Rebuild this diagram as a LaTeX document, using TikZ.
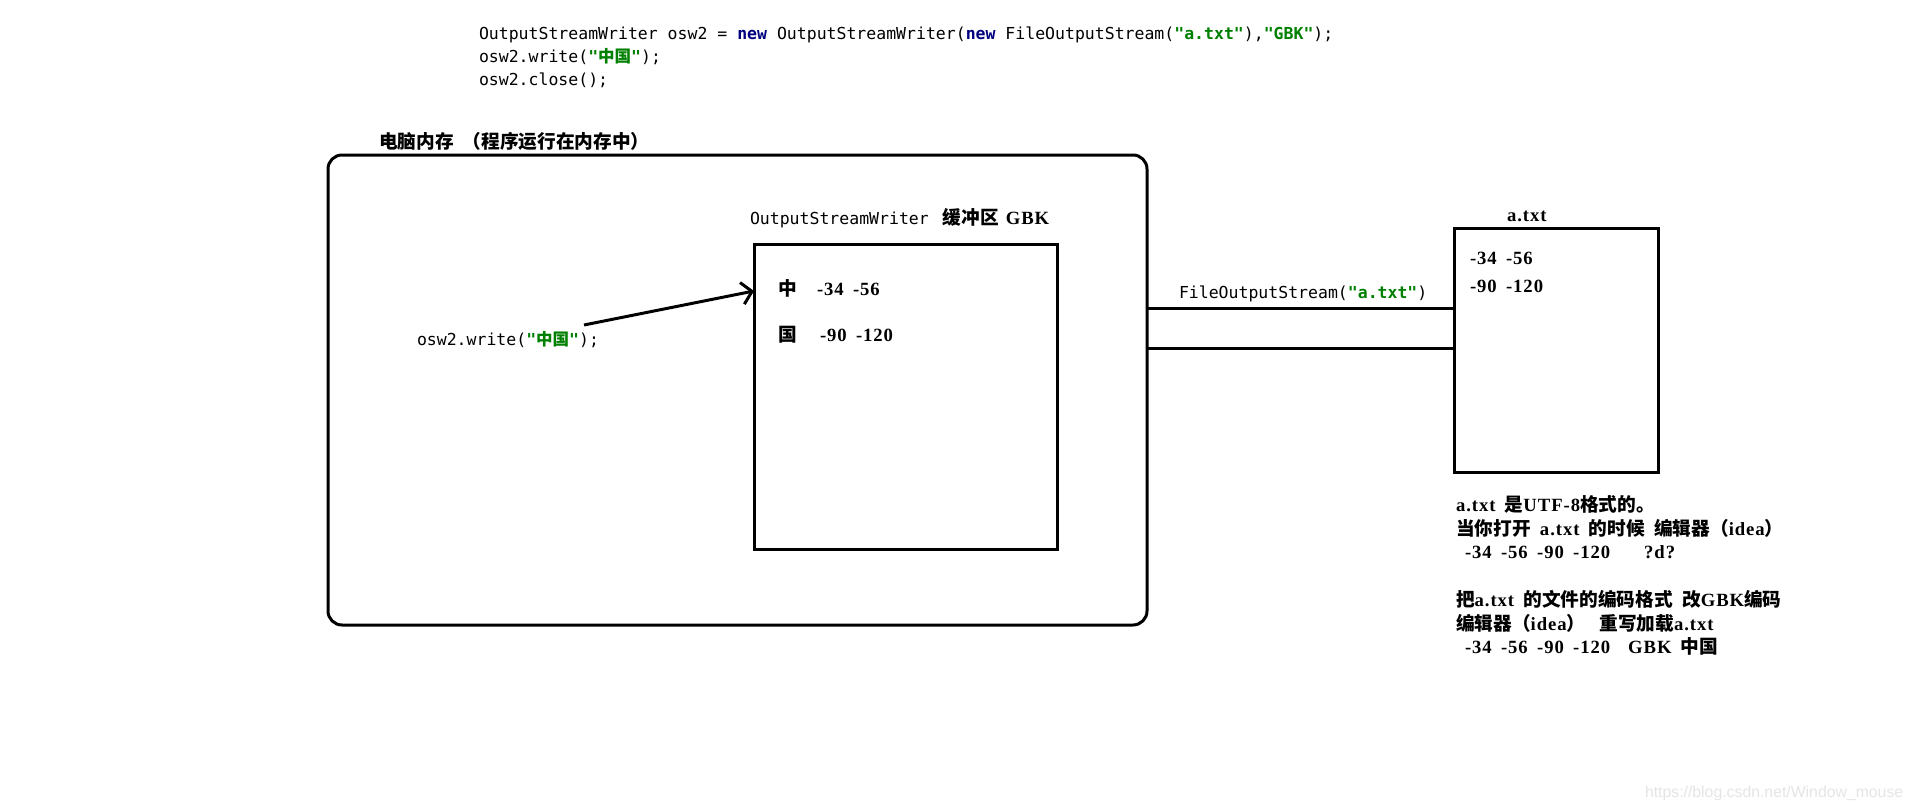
\documentclass[tikz,border=0pt]{standalone}
\usepackage{fontspec}
\setmainfont{Liberation Serif}[LetterSpace=5]
\newfontfamily\cjk{Noto Sans CJK SC}
\newfontfamily\codefont{DejaVu Sans Mono}
\newfontfamily\wmfont{Liberation Sans}
\usetikzlibrary{arrows.meta}
\definecolor{kwblue}{HTML}{000080}
\definecolor{strgreen}{HTML}{008000}
\newcommand{\zh}[1]{{\cjk #1}}
\newcommand{\kw}[1]{{\color{kwblue}\bfseries #1}}
\newcommand{\jstr}[1]{{\color{strgreen}\bfseries #1}}
\newcommand{\sizeA}{\fontsize{18.67}{22}\selectfont\spaceskip=9.3pt\relax}
\newcommand{\sizeMid}{\fontsize{16.5}{19}\selectfont}
\begin{document}
\begin{tikzpicture}[x=1pt,y=-1pt,
  every node/.style={inner sep=0pt, outer sep=0pt},
  txt/.style={anchor=base west, inner sep=0pt, font=\bfseries\sizeA},
  code/.style={anchor=base west, inner sep=0pt, font=\codefont\sizeMid},
  box/.style={draw, line width=3pt, inner sep=0pt},
  conn/.style={line width=3pt}]
\fill[white] (0,0) rectangle (1914,811);
\path[use as bounding box] (0,0) rectangle (1914,811);

% code at top
\node[code] (code1) at (479,39) {OutputStreamWriter osw2 = \kw{new} OutputStreamWriter(\kw{new} FileOutputStream(\jstr{"a.txt"}),\jstr{"GBK"});};
\node[code] (code2) at (479,62) {osw2.write(\jstr{"\zh{中国}"});};
\node[code] (code3) at (479,85) {osw2.close();};

% memory box
\node[txt] (memlbl) at (379,148) {\zh{电脑内存}\hspace{9pt}\zh{（程序运行在内存中）}};
\node[box, rounded corners=14pt, minimum width=819pt, minimum height=470pt] (mem) at (737.5,390) {};

% OutputStreamWriter buffer
\node[txt] (oswlbl) at (750,224) {{\codefont\mdseries\sizeMid OutputStreamWriter}\hspace{14pt}\zh{缓冲区}\hspace{7pt}GBK};
\node[box, minimum width=303pt, minimum height=305pt] (osw) at (905.5,396.5) {};
\node[txt] (row1) at (778,295) {\makebox[39pt][l]{\zh{中}}-34 -56};
\node[txt] (row2) at (778,341) {\makebox[42pt][l]{\zh{国}}-90 -120};

% write call and arrow
\node[code] (write) at (417,345) {osw2.write(\jstr{"\zh{中国}"});};
\coordinate (arrS) at (584,325);
\coordinate (arrE) at (754,291);
\draw[conn, -{Straight Barb[length=10pt,width=22pt]}] (arrS) -- (arrE);

% a.txt file
\node[txt] (atxtlbl) at (1507,221) {a.txt};
\node[box, minimum width=204pt, minimum height=244pt] (atxt) at (1556,350) {};
\node[txt] (a1) at (1470,264) {-34 -56};
\node[txt] (a2) at (1470,292) {-90 -120};

% stream between memory and file
\node[code] (fos) at (1179,298) {FileOutputStream(\jstr{"a.txt"})};
\coordinate (yA) at (0,308);
\coordinate (yB) at (0,348);
\draw[conn] (mem.east |- yA) -- (atxt.west |- yA);
\draw[conn] (mem.east |- yB) -- (atxt.west |- yB);

% notes
\node[txt] (n1) at (1456,511) {a.txt \zh{是}UTF-8\zh{格式的。}};
\node[txt] (n2) at (1456,535) {\zh{当你打开} a.txt \zh{的时候} \zh{编辑器（}idea\zh{）}};
\node[txt] (n3) at (1465,558) {-34 -56 -90 -120\hspace{34pt}?d?};
\node[txt] (n4) at (1456,606) {\zh{把}a.txt \zh{的文件的编码格式} \zh{改}GBK\zh{编码}};
\node[txt] (n5) at (1456,630) {\zh{编辑器（}idea\zh{）}\hspace{14pt}\zh{重写加载}a.txt};
\node[txt] (n6) at (1465,653) {-34 -56 -90 -120\hspace{18pt}GBK \zh{中国}};

% watermark
\node[anchor=base west, text=black!10] (wm) at (1645,797) {\wmfont\fontsize{15.8}{18}\selectfont https://blog.csdn.net/Window\_mouse};
\end{tikzpicture}
\end{document}
